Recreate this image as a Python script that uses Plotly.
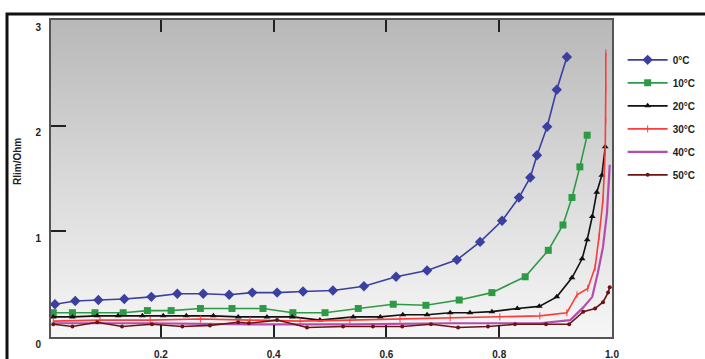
import plotly.graph_objects as go

# ---- data ----
x_0C = [0.012, 0.048, 0.089, 0.135, 0.183, 0.229, 0.275, 0.321, 0.362, 0.406, 0.452, 0.505,
        0.560, 0.617, 0.672, 0.725, 0.766, 0.805, 0.835, 0.855, 0.867, 0.885, 0.902, 0.920]
y_0C = [0.31, 0.34, 0.35, 0.36, 0.38, 0.41, 0.41, 0.40, 0.42, 0.42, 0.43, 0.44,
        0.48, 0.57, 0.63, 0.73, 0.90, 1.10, 1.32, 1.51, 1.72, 1.99, 2.34, 2.65]

x_10C = [0.009, 0.043, 0.083, 0.133, 0.176, 0.218, 0.270, 0.326, 0.381, 0.434, 0.491,
         0.550, 0.612, 0.670, 0.729, 0.787, 0.846, 0.887, 0.913, 0.929, 0.943, 0.956]
y_10C = [0.23, 0.23, 0.23, 0.23, 0.25, 0.25, 0.27, 0.27, 0.27, 0.23, 0.23,
         0.27, 0.31, 0.30, 0.35, 0.42, 0.57, 0.82, 1.06, 1.32, 1.61, 1.91]

x_20C = [0.009, 0.043, 0.087, 0.124, 0.167, 0.204, 0.245, 0.293, 0.337, 0.388, 0.433, 0.482,
         0.541, 0.589, 0.629, 0.672, 0.713, 0.748, 0.787, 0.832, 0.871, 0.902, 0.929,
         0.947, 0.956, 0.965, 0.973, 0.982, 0.988]
y_20C = [0.19, 0.19, 0.20, 0.20, 0.20, 0.20, 0.20, 0.20, 0.19, 0.19, 0.19, 0.16,
         0.19, 0.19, 0.21, 0.21, 0.23, 0.23, 0.24, 0.27, 0.29, 0.38, 0.56,
         0.74, 0.92, 1.14, 1.37, 1.53, 1.80]

x_30C = [0.009, 0.092, 0.181, 0.270, 0.358, 0.447, 0.535, 0.624, 0.713, 0.801, 0.872,
         0.920, 0.938, 0.957, 0.970, 0.977, 0.984, 0.988, 0.989, 0.989, 0.989]
y_30C = [0.15, 0.16, 0.16, 0.17, 0.16, 0.15, 0.16, 0.17, 0.18, 0.19, 0.20,
         0.23, 0.40, 0.46, 0.66, 0.95, 1.30, 1.77, 2.05, 2.35, 2.69]

x_40C = [0.009, 0.181, 0.358, 0.535, 0.713, 0.872, 0.926, 0.949, 0.965, 0.975, 0.984, 0.991, 0.996]
y_40C = [0.13, 0.13, 0.12, 0.12, 0.13, 0.13, 0.16, 0.28, 0.38, 0.61, 0.85, 1.17, 1.63]

x_50C = [0.009, 0.043, 0.087, 0.131, 0.184, 0.238, 0.287, 0.337, 0.356, 0.406, 0.459,
         0.523, 0.576, 0.628, 0.679, 0.727, 0.780, 0.828, 0.883, 0.924, 0.949, 0.970,
         0.984, 0.993, 0.996]
y_50C = [0.12, 0.10, 0.14, 0.10, 0.12, 0.10, 0.11, 0.14, 0.13, 0.16, 0.09,
         0.10, 0.10, 0.10, 0.12, 0.09, 0.10, 0.12, 0.12, 0.12, 0.24, 0.27,
         0.33, 0.42, 0.47]

series_names = ["0°C", "10°C", "20°C", "30°C", "40°C", "50°C"]
y_title = "Rlim/Ohm"
x_ticks = [0, 0.2, 0.4, 0.6, 0.8, 1.0]
x_ticklabels = ["", "0.2", "0.4", "0.6", "0.8", "1.0"]
y_ticks = [0, 1, 2, 3]
y_ticklabels = ["0", "1", "2", "3"]

X_RANGE = [0.005, 1.0]
Y_RANGE = [0, 3]

fig = go.Figure()

# gradient plot background
fig.add_trace(go.Scatter(
    x=[X_RANGE[0], X_RANGE[1], X_RANGE[1], X_RANGE[0], X_RANGE[0]],
    y=[Y_RANGE[0], Y_RANGE[0], Y_RANGE[1], Y_RANGE[1], Y_RANGE[0]],
    mode="none", fill="toself",
    fillgradient=dict(type="vertical",
                      colorscale=[[0, "#f6f6f6"], [0.5, "#d9d9d9"], [1, "#b8b8b8"]]),
    showlegend=False, hoverinfo="skip"))

styles = [
    (x_0C, y_0C, "#3b3fa0", dict(symbol="diamond", size=8, color="#3b3fa0")),
    (x_10C, y_10C, "#2f9a45", dict(symbol="square", size=7, color="#2f9a45")),
    (x_20C, y_20C, "#111111", dict(symbol="triangle-up", size=6, color="#111111")),
    (x_30C, y_30C, "#ff3a3a", dict(symbol="line-ns-open", size=5, color="#ff3a3a",
                                   line=dict(width=1, color="#ff3a3a"))),
    (x_40C, y_40C, "#b44cb0", None),
    (x_50C, y_50C, "#6a1414", dict(symbol="circle", size=4, color="#6a1414")),
]

for i, (xs, ys, col, mk) in enumerate(styles):
    fig.add_trace(go.Scatter(
        x=xs, y=ys, name=series_names[i],
        mode="lines+markers" if mk else "lines",
        line=dict(color=col, width=1.6 if i != 4 else 2.2),
        marker=mk, legendgroup=f"g{i}"))

# outer black frame
L, R, T, B = 51, 612, 20, 337
W, H = R - L, B - T
fig.add_shape(type="rect", xref="paper", yref="paper",
              x0=(7 - L) / W, x1=(900 - L) / W, y0=(B - 500) / H, y1=(B - 14) / H,
              line=dict(color="#111111", width=3), fillcolor="rgba(0,0,0,0)", layer="above")

FAM = "Liberation Sans, Arial, sans-serif"
fnt = dict(family=FAM, size=10, color="#222222", weight="bold")

# y-axis title placed like the reference
fig.add_annotation(text=y_title, xref="paper", yref="paper",
                   x=(17 - L) / W, y=(B - 162) / H, textangle=-90, showarrow=False,
                   font=dict(family=FAM, size=10, color="#222222", weight="bold"),
                   xanchor="center", yanchor="middle")

fig.update_layout(
    width=705, height=359,
    margin=dict(l=L, r=705 - R, t=T, b=359 - B, autoexpand=False),
    paper_bgcolor="white", plot_bgcolor="white",
    font=fnt,
    showlegend=True,
    legend=dict(x=1.019, y=0.92, xanchor="left", yanchor="top",
                font=dict(family=FAM, size=10, color="#222222", weight="bold"),
                tracegroupgap=4, bgcolor="rgba(0,0,0,0)", itemwidth=40),
    xaxis=dict(range=X_RANGE, tickvals=x_ticks, ticktext=x_ticklabels, automargin=False,
               ticks="inside", ticklen=12, tickwidth=2, tickcolor="#222222",
               showline=True, linecolor="#555555", linewidth=2, mirror="ticks",
               showgrid=False, zeroline=False, ticklabelstandoff=7),
    yaxis=dict(range=Y_RANGE, tickvals=y_ticks, ticktext=y_ticklabels, automargin=False,
               ticks="inside", ticklen=15, tickwidth=2, tickcolor="#222222",
               showline=True, linecolor="#555555", linewidth=2, mirror=True,
               showgrid=False, zeroline=False, ticklabelstandoff=6, ticklabelshift=7),
)

fig.write_html("out.html", config={"displayModeBar": False},
               post_script="document.body.style.margin='0';document.body.style.overflow='hidden';")
